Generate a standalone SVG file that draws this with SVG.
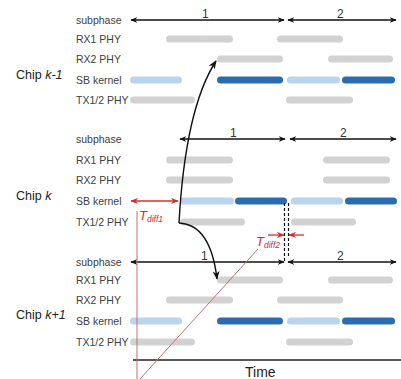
<svg xmlns="http://www.w3.org/2000/svg" width="401" height="379" viewBox="0 0 401 379">
<style>
.lbl{font-family:"Liberation Sans",Arial,sans-serif;font-size:10.5px;fill:#404040}
.chip{font-family:"Liberation Sans",Arial,sans-serif;font-size:12.5px;fill:#222}
.num{font-family:"Liberation Sans",Arial,sans-serif;font-size:12px;fill:#333}
.bar{stroke-width:7;stroke-linecap:round;fill:none}
.g{stroke:#d2d2d2}
.lb{stroke:#b9d4ec}
.db{stroke:#2c6cae}
.sp{stroke:#111;stroke-width:1.3;fill:none;marker-start:url(#ah);marker-end:url(#ah)}
.red{font-family:"Liberation Sans",Arial,sans-serif;font-style:italic;fill:#c8302c}
</style>
<defs>
<marker id="ah" viewBox="0 0 10 8" refX="9" refY="4" markerWidth="7" markerHeight="6" markerUnits="userSpaceOnUse" orient="auto-start-reverse">
<path d="M0,0 L10,4 L0,8 L3,4 z" fill="#111"/>
</marker>
<marker id="ahc" viewBox="0 0 10 8" refX="9" refY="4" markerWidth="9" markerHeight="7" markerUnits="userSpaceOnUse" orient="auto">
<path d="M0,0 L10,4 L0,8 L3,4 z" fill="#111"/>
</marker>
<marker id="ahr" viewBox="0 0 10 8" refX="9" refY="4" markerWidth="8" markerHeight="7" markerUnits="userSpaceOnUse" orient="auto-start-reverse">
<path d="M0,0 L10,4 L0,8 L3,4 z" fill="#d03030"/>
</marker>
</defs>

<g id="chip-k-minus-1">
<text class="chip" x="16" y="79">Chip <tspan font-style="italic">k-1</tspan></text>
<text class="lbl" x="76" y="24">subphase</text>
<text class="lbl" x="76" y="43">RX1 PHY</text>
<text class="lbl" x="76" y="63">RX2 PHY</text>
<text class="lbl" x="76" y="84">SB kernel</text>
<text class="lbl" x="76" y="104">TX1/2 PHY</text>
<line class="sp" x1="131" y1="20" x2="284" y2="20"/>
<line class="sp" x1="288" y1="20" x2="396" y2="20"/>
<text class="num" x="202" y="18">1</text>
<text class="num" x="337" y="18">2</text>
<line class="bar g" x1="169.5" y1="39" x2="229.5" y2="39"/>
<line class="bar g" x1="280.5" y1="39" x2="339.5" y2="39"/>
<line class="bar g" x1="220.5" y1="59" x2="279.5" y2="59"/>
<line class="bar g" x1="331.5" y1="59" x2="389.5" y2="59"/>
<line class="bar lb" x1="133.5" y1="80" x2="178.5" y2="80"/>
<line class="bar db" x1="220.5" y1="80" x2="279.5" y2="80"/>
<line class="bar lb" x1="290.5" y1="80" x2="336.5" y2="80"/>
<line class="bar db" x1="345.5" y1="80" x2="391.5" y2="80"/>
<line class="bar g" x1="133.5" y1="100" x2="191.5" y2="100"/>
<line class="bar g" x1="289.5" y1="100" x2="349.5" y2="100"/>
</g>

<g id="chip-k">
<text class="chip" x="16" y="200">Chip <tspan font-style="italic">k</tspan></text>
<text class="lbl" x="76" y="143">subphase</text>
<text class="lbl" x="76" y="164">RX1 PHY</text>
<text class="lbl" x="76" y="184">RX2 PHY</text>
<text class="lbl" x="76" y="205">SB kernel</text>
<text class="lbl" x="76" y="226">TX1/2 PHY</text>
<line class="sp" x1="180" y1="139" x2="285" y2="139"/>
<line class="sp" x1="290" y1="139" x2="396" y2="139"/>
<text class="num" x="230" y="137">1</text>
<text class="num" x="340" y="137">2</text>
<line class="bar g" x1="169.5" y1="160" x2="229.5" y2="160"/>
<line class="bar g" x1="326.5" y1="160" x2="386.5" y2="160"/>
<line class="bar g" x1="169.5" y1="180" x2="229.5" y2="180"/>
<line class="bar g" x1="326.5" y1="180" x2="386.5" y2="180"/>
<line class="bar lb" x1="183.5" y1="201" x2="230.5" y2="201"/>
<line class="bar db" x1="238.5" y1="201" x2="283.5" y2="201"/>
<line class="bar lb" x1="294.5" y1="201" x2="339.5" y2="201"/>
<line class="bar db" x1="348.5" y1="201" x2="393.5" y2="201"/>
<line class="bar g" x1="183.5" y1="222" x2="241.5" y2="222"/>
<line class="bar g" x1="294.5" y1="222" x2="352.5" y2="222"/>
</g>

<g id="chip-k-plus-1">
<text class="chip" x="16" y="319">Chip <tspan font-style="italic">k+1</tspan></text>
<text class="lbl" x="76" y="266">subphase</text>
<text class="lbl" x="76" y="284">RX1 PHY</text>
<text class="lbl" x="76" y="304">RX2 PHY</text>
<text class="lbl" x="76" y="325">SB kernel</text>
<text class="lbl" x="76" y="346">TX1/2 PHY</text>
<line class="sp" x1="131" y1="262" x2="284" y2="262"/>
<line class="sp" x1="288" y1="262" x2="396" y2="262"/>
<text class="num" x="201" y="260">1</text>
<text class="num" x="337" y="260">2</text>
<line class="bar g" x1="220.5" y1="280" x2="279.5" y2="280"/>
<line class="bar g" x1="331.5" y1="280" x2="389.5" y2="280"/>
<line class="bar g" x1="169.5" y1="300" x2="229.5" y2="300"/>
<line class="bar g" x1="280.5" y1="300" x2="339.5" y2="300"/>
<line class="bar lb" x1="133.5" y1="321" x2="178.5" y2="321"/>
<line class="bar db" x1="220.5" y1="321" x2="279.5" y2="321"/>
<line class="bar lb" x1="290.5" y1="321" x2="336.5" y2="321"/>
<line class="bar db" x1="345.5" y1="321" x2="391.5" y2="321"/>
<line class="bar g" x1="133.5" y1="342" x2="191.5" y2="342"/>
<line class="bar g" x1="289.5" y1="342" x2="349.5" y2="342"/>
</g>

<g id="time-axis">
<line x1="133" y1="360" x2="401" y2="360" stroke="#222" stroke-width="1.5"/>
<text x="245" y="377" font-family="Liberation Sans,Arial,sans-serif" font-size="14" fill="#222">Time</text>
</g>

<g id="connectors">
<path d="M179,223 C183,150 194,95 216,61" stroke="#111" stroke-width="1.4" fill="none" marker-end="url(#ahc)"/>
<path d="M179,223 C201,224 213,245 217,279" stroke="#111" stroke-width="1.4" fill="none" marker-end="url(#ahc)"/>
<line x1="284.5" y1="203" x2="284.5" y2="262" stroke="#111" stroke-width="1.2" stroke-dasharray="3,2"/>
<line x1="288.5" y1="203" x2="288.5" y2="257" stroke="#111" stroke-width="1.2" stroke-dasharray="3,2"/>
<line x1="131" y1="201" x2="178" y2="201" stroke="#d03030" stroke-width="1.3" marker-start="url(#ahr)" marker-end="url(#ahr)"/>
<line x1="137" y1="211" x2="137" y2="379" stroke="#c07070" stroke-width="1"/>
<line x1="140" y1="379" x2="258" y2="249" stroke="#c07070" stroke-width="1"/>
<line x1="268" y1="235" x2="284" y2="235" stroke="#d03030" stroke-width="1.3" marker-end="url(#ahr)"/>
<line x1="304" y1="235" x2="289" y2="235" stroke="#d03030" stroke-width="1.3" marker-end="url(#ahr)"/>
<text class="red" x="139" y="220" font-size="13">T<tspan font-size="8.5" dy="2">diff1</tspan></text>
<text class="red" x="256" y="246" font-size="13">T<tspan font-size="8.5" dy="2">diff2</tspan></text>
</g>
</svg>
